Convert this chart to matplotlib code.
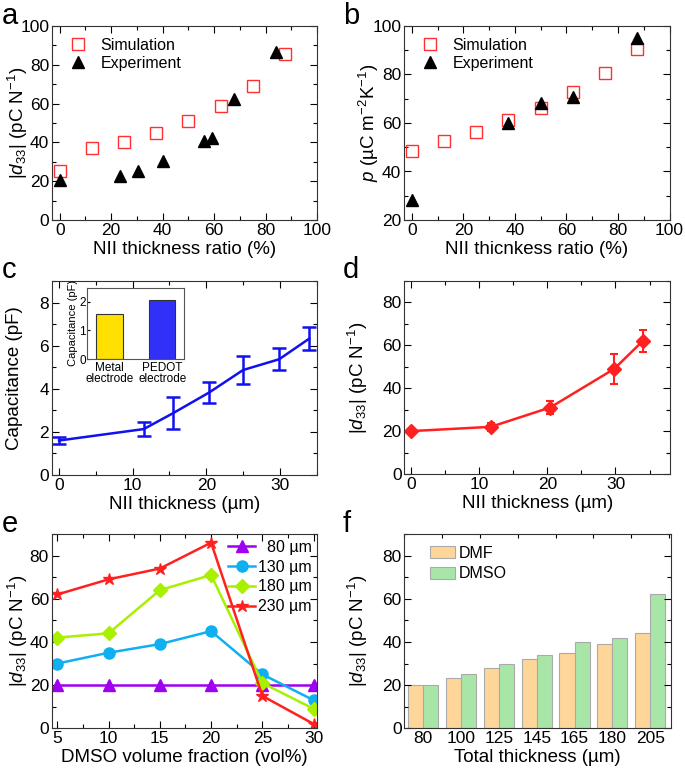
import numpy as np
import matplotlib
matplotlib.use('Agg')
import matplotlib.pyplot as plt
from matplotlib.ticker import MultipleLocator

plt.rcParams['font.family'] = ['Liberation Sans', 'DejaVu Sans']
plt.rcParams['mathtext.fontset'] = 'custom'
plt.rcParams['mathtext.rm'] = 'Liberation Sans'
plt.rcParams['mathtext.it'] = 'Liberation Sans:italic'
plt.rcParams['font.size'] = 13
plt.rcParams['axes.edgecolor'] = '#333333'

# ---- data ----
# a
a_sim_x = [0, 12.5, 25, 37.5, 50, 62.5, 75, 87.5]
a_sim_y = [25.5, 37, 40, 45, 51, 59, 69, 85.5]
a_exp_x = [0, 23.3, 30.6, 40.3, 56.1, 59.2, 67.7, 84.2]
a_exp_y = [20.5, 22.5, 25.5, 30.5, 40.5, 42.5, 62.5, 86.5]
# b
b_sim_x = [0, 12.5, 25, 37.5, 50, 62.5, 75, 87.5]
b_sim_y = [48.5, 52.4, 56.3, 61.1, 66.2, 72.9, 80.6, 90.5]
b_exp_x = [0, 37.5, 50, 62.5, 87.5]
b_exp_y = [28.1, 60.1, 68.1, 70.9, 94.9]
# c
c_x = [0, 11.5, 15.5, 20.4, 25, 29.9, 34]
c_y = [1.6, 2.13, 2.87, 3.83, 4.87, 5.37, 6.33]
c_err = [0.15, 0.33, 0.75, 0.5, 0.67, 0.5, 0.52]
inset_labels = ['Metal\nelectrode', 'PEDOT\nelectrode']
inset_vals = [1.57, 2.07]
# d
d_x = [0, 11.7, 20.4, 29.8, 34]
d_y = [20, 22, 31, 49, 62]
d_err = [1, 1.8, 3.2, 7, 5]
# e
e_x = [5, 10, 15, 20, 25, 30]
e_80 = [20, 20, 20, 20, 20, 20]
e_130 = [30, 35, 39, 45, 25, 13]
e_180 = [42, 44, 64, 71, 21, 9]
e_230 = [62, 69, 74, 86, 15, 2]
# f
f_labels = ['80', '100', '125', '145', '165', '180', '205']
f_dmf = [20, 23.5, 28, 32, 35, 39, 44]
f_dmso = [20, 25, 30, 34, 40, 42, 62]

d33_label = r'|$d_{33}$| (pC N$^{-1}$)'

fig = plt.figure(figsize=(6.85, 7.74), dpi=100)
W, H = 685.0, 774.0
TK = 12.5   # tick label size
LB = 13.5   # axis label size
LG = 11.5   # legend size


def box(l, r, t, b):
    return [l / W, 1 - b / H, (r - l) / W, (b - t) / H]


def style(ax, xminor, yminor):
    ax.tick_params(which='both', direction='in', top=True, right=True, labelsize=TK, pad=2)
    ax.tick_params(which='major', length=5, width=0.8)
    ax.tick_params(which='minor', length=3, width=0.8)
    if xminor:
        ax.xaxis.set_minor_locator(MultipleLocator(xminor))
    if yminor:
        ax.yaxis.set_minor_locator(MultipleLocator(yminor))


def ylab(ax, text, xfrac):
    ax.set_ylabel(text, fontsize=LB)
    ax.yaxis.set_label_coords(xfrac, 0.5)


def xlab(ax, text):
    ax.set_xlabel(text, fontsize=LB, labelpad=2)


red = '#FF2020'

# panel a
ax = fig.add_axes(box(52, 317, 26, 220))
ax.plot(a_sim_x, a_sim_y, 's', ms=8, mfc='none', mec='#FF3030', mew=1.0, label='Simulation')
ax.plot(a_exp_x, a_exp_y, '^', ms=9, color='black', label='Experiment')
ax.set_xlim(-3, 100)
ax.set_ylim(0, 100)
ax.xaxis.set_major_locator(MultipleLocator(20))
ax.yaxis.set_major_locator(MultipleLocator(20))
style(ax, 10, 10)
xlab(ax, 'NII thickness ratio (%)')
ylab(ax, d33_label, -0.083)
ax.legend(loc='upper left', frameon=False, fontsize=LG, handlelength=1.0, handletextpad=0.9,
          labelspacing=0.2, borderaxespad=0, borderpad=0, bbox_to_anchor=(0.068, 0.94))

# panel b
ax = fig.add_axes(box(404, 669.5, 26, 220))
ax.plot(b_sim_x, b_sim_y, 's', ms=8, mfc='none', mec='#FF3030', mew=1.0, label='Simulation')
ax.plot(b_exp_x, b_exp_y, '^', ms=9, color='black', label='Experiment')
ax.set_xlim(-3, 100)
ax.set_ylim(20, 100)
ax.xaxis.set_major_locator(MultipleLocator(20))
ax.yaxis.set_major_locator(MultipleLocator(20))
style(ax, 10, 10)
xlab(ax, 'NII thicnkess ratio (%)')
ylab(ax, r'$p$ (µC m$^{-2}$K$^{-1}$)', -0.085)
ax.legend(loc='upper left', frameon=False, fontsize=LG, handlelength=1.0, handletextpad=0.9,
          labelspacing=0.2, borderaxespad=0, borderpad=0, bbox_to_anchor=(0.068, 0.94))

# panel c
ax = fig.add_axes(box(51.7, 316.7, 281, 475))
ax.errorbar(c_x, c_y, yerr=c_err, color='#1010F0', lw=1.8, capsize=5, capthick=1.8, elinewidth=1.8)
ax.set_xlim(-1, 35)
ax.set_ylim(0, 9)
ax.xaxis.set_major_locator(MultipleLocator(10))
ax.yaxis.set_major_locator(MultipleLocator(2))
style(ax, 5, 1)
xlab(ax, 'NII thickness (µm)')
ylab(ax, 'Capacitance (pF)', -0.11)

ins = fig.add_axes(box(87.3, 184.3, 287.7, 359))
ins.bar([0, 1], inset_vals, width=0.5, color=['#FFE000', '#3030F8'], edgecolor='#333333', lw=0.8)
ins.set_xlim(-0.42, 1.42)
ins.set_ylim(0, 2.5)
ins.set_xticks([0, 1])
ins.set_xticklabels(inset_labels, fontsize=8.5, linespacing=0.9)
ins.set_yticks([0, 1, 2])
ins.tick_params(axis='y', direction='in', labelsize=8.5, length=2, pad=1)
ins.tick_params(axis='x', length=0, pad=2)
ins.set_ylabel('Capacitance (pF)', fontsize=8, labelpad=1)
for s in ins.spines.values():
    s.set_color('#555555')

# panel d
ax = fig.add_axes(box(404.3, 670, 281, 474))
ax.errorbar(d_x, d_y, yerr=d_err, color=red, marker='D', ms=7, lw=1.8, capsize=3,
            capthick=1.5, elinewidth=1.5)
ax.set_xlim(-1, 38)
ax.set_ylim(0, 90)
ax.xaxis.set_major_locator(MultipleLocator(10))
ax.yaxis.set_major_locator(MultipleLocator(20))
style(ax, 5, 10)
xlab(ax, 'NII thickness (µm)')
ylab(ax, d33_label, -0.13)

# panel e
ax = fig.add_axes(box(51.7, 316.7, 534, 728.3))
ax.plot(e_x, e_80, '-^', color='#A000F0', lw=1.8, ms=8, label='  80 µm')
ax.plot(e_x, e_130, '-o', color='#10B0F0', lw=1.8, ms=8, label='130 µm')
ax.plot(e_x, e_180, '-D', color='#A8F000', lw=1.8, ms=7, label='180 µm')
ax.plot(e_x, e_230, '-*', color=red, lw=1.8, ms=9, label='230 µm')
ax.set_xlim(4.45, 30.3)
ax.set_ylim(0, 90)
ax.xaxis.set_major_locator(MultipleLocator(5))
ax.yaxis.set_major_locator(MultipleLocator(20))
style(ax, 2.5, 10)
xlab(ax, 'DMSO volume fraction (vol%)')
ylab(ax, d33_label, -0.083)
ax.legend(loc='upper left', frameon=False, fontsize=LG, handlelength=1.7,
          handletextpad=0.2, labelspacing=0.3, borderaxespad=0, borderpad=0,
          bbox_to_anchor=(0.665, 0.97))

# panel f
ax = fig.add_axes(box(404.3, 671, 534, 728.3))
xs = np.arange(len(f_labels))
ax.bar(xs - 0.2, f_dmf, width=0.4, color='#FFD699', edgecolor='#AAAAAA', lw=0.8, label='DMF')
ax.bar(xs + 0.2, f_dmso, width=0.4, color='#A8E6A8', edgecolor='#AAAAAA', lw=0.8, label='DMSO')
ax.set_xlim(-0.5, 6.55)
ax.set_ylim(0, 90)
ax.set_xticks(xs)
ax.set_xticklabels(f_labels)
ax.yaxis.set_major_locator(MultipleLocator(20))
style(ax, None, 10)
ax.tick_params(axis='x', which='major', bottom=False, top=False)
ax.xaxis.set_minor_locator(MultipleLocator(0.5))
ax.tick_params(axis='x', which='minor', bottom=False, top=True)
xlab(ax, 'Total thickness (µm)')
ylab(ax, d33_label, -0.13)
ax.legend(loc='upper left', frameon=False, fontsize=LG, handlelength=1.6,
          handleheight=0.75, handletextpad=0.2, labelspacing=0.35, borderaxespad=0,
          borderpad=0, bbox_to_anchor=(0.096, 0.94))

# panel letters
for txt, x, y in [('a', 2, 2), ('b', 343, 2), ('c', 2, 256), ('d', 343, 256),
                  ('e', 2, 510), ('f', 343, 510)]:
    fig.text(x / W, 1 - y / H, txt, fontsize=21, va='top', ha='left')

fig.savefig('out.png', dpi=100)
